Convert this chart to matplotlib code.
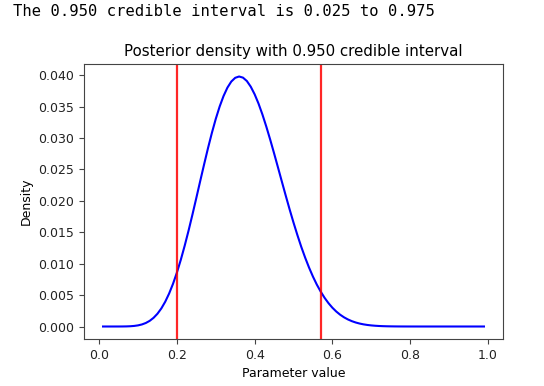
import matplotlib
matplotlib.use('Agg')
import matplotlib.pyplot as plt

# grid of parameter values and posterior density
params = [k / 100 for k in range(1, 100)]
density = [
    0.0, 0.0, 0.0, 3e-7, 1.5e-6, 5.6e-6, 1.6e-5, 4.1e-5, 9.0e-5, 0.000179,
    0.000327, 0.000558, 0.000900, 0.001383, 0.002033, 0.00288, 0.003947, 0.00525, 0.006795, 0.008585,
    0.01061, 0.01285, 0.01526, 0.01782, 0.02047, 0.02316, 0.02581, 0.02839, 0.03082, 0.03305,
    0.03502, 0.03669, 0.03803, 0.03900, 0.03959, 0.0398, 0.03962, 0.03908, 0.03818, 0.03697,
    0.03549, 0.03376, 0.03183, 0.02976, 0.02758, 0.02534, 0.02308, 0.02084, 0.01865, 0.01655,
    0.01456, 0.01268, 0.01096, 0.00938, 0.00795, 0.00667, 0.00555, 0.004564, 0.003717, 0.002993,
    0.002385, 0.001878, 0.001462, 0.001124, 0.000853, 0.000638, 0.000471, 0.000343, 0.000245, 0.000173,
    0.000120, 8.1e-5, 5.4e-5, 3.5e-5, 2.3e-5, 1.4e-5, 8.5e-6, 5e-6, 2.9e-6, 1.6e-6,
    9e-7, 4.5e-7, 2e-7, 9e-8, 4e-8, 0.0, 0.0, 0.0, 0.0, 0.0,
    0.0, 0.0, 0.0, 0.0, 0.0, 0.0, 0.0, 0.0, 0.0,
]
ci_low = 0.20
ci_high = 0.57
ci_level = 0.950
printed = (0.025, 0.975)

fig = plt.figure(figsize=(5.44, 3.86), dpi=100)
ax = fig.add_axes([84 / 544, 1 - 339 / 386, 419 / 544, 275 / 386])

fig.text(13 / 544, 1 - 12 / 386,
         'The {:.3f} credible interval is {:.3f} to {:.3f}'.format(ci_level, printed[0], printed[1]),
         family='DejaVu Sans Mono', fontsize=11.15, va='center', ha='left')

ax.plot(params, density, color='blue', linewidth=1.5)
ax.axvline(ci_low, color='red', linewidth=1.6, alpha=0.85)
ax.axvline(ci_high, color='red', linewidth=1.6, alpha=0.85)

for s in ax.spines.values():
    s.set_color('#444444')
ax.tick_params(colors='#444444', labelcolor='#222222', labelsize=9)

ax.set_title('Posterior density with {:.3f} credible interval'.format(ci_level), fontsize=10.8)
ax.set_xlabel('Parameter value', fontsize=9)
ax.set_ylabel('Density', fontsize=9)

fig.savefig('out.png', dpi=100)
